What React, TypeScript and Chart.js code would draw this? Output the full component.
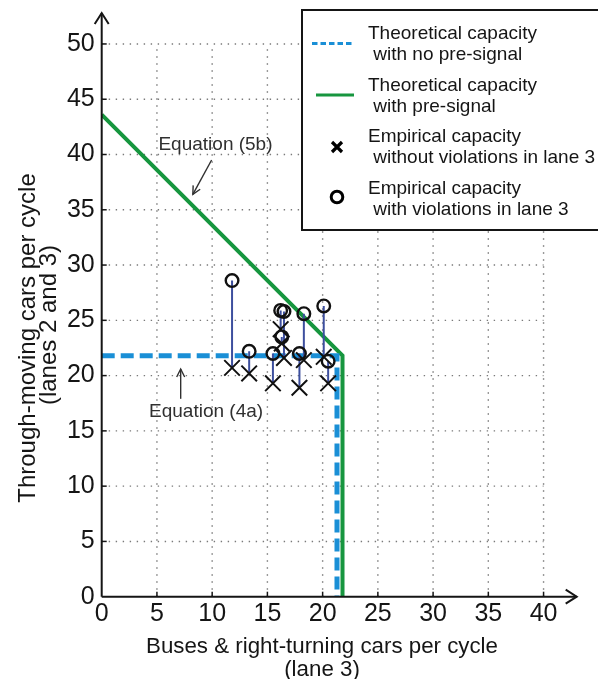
import React, { useEffect, useRef } from "react";
import { Chart, registerables } from "chart.js";

Chart.register(...registerables);

const FONT = '"Liberation Sans", Arial, Helvetica, sans-serif';

// Axis ticks
const xTicks = [0, 5, 10, 15, 20, 25, 30, 35, 40];
const yTicks = [0, 5, 10, 15, 20, 25, 30, 35, 40, 45, 50];

// Theoretical capacity, no pre-signal (Equation 4a)
const noPreX = [0, 21.3, 21.3];
const noPreY = [21.8, 21.8, 0];

// Theoretical capacity, with pre-signal (Equation 5b)
const preX = [0, 21.8, 21.8];
const preY = [43.6, 21.8, 0];

// Empirical observations (paired)
const obsX = [11.8, 13.35, 15.5, 16.2, 16.5, 16.3, 18.3, 17.9, 20.1, 20.5];
const withViolY = [28.6, 22.2, 22.0, 25.9, 25.8, 23.5, 25.6, 22.0, 26.3, 21.3];
const withoutViolY = [20.7, 20.2, 19.3, 24.2, 21.6, 22.9, 21.4, 18.9, 21.7, 19.3];

// Legend texts
const legendLines = [
  ["Theoretical capacity", " with no pre-signal"],
  ["Theoretical capacity", " with pre-signal"],
  ["Empirical capacity", " without violations in lane 3"],
  ["Empirical capacity", " with violations in lane 3"],
];

// Annotations (data coords): label centre, arrow from, arrow to
const annoText = ["Equation (5b)", "Equation (4a)"];
const annoLabelX = [10.3, 9.45];
const annoLabelY = [40.9, 16.7];
const annoFromX = [9.95, 7.15];
const annoFromY = [39.5, 17.9];
const annoToX = [8.25, 7.15];
const annoToY = [36.4, 20.6];

const xTitle = ["Buses & right-turning cars per cycle", "(lane 3)"];
const yTitle = ["Through-moving cars per cycle", "(lanes 2 and 3)"];

const BLUE = "#1a8fd6";
const GREEN = "#17963f";
const LINK = "#3d4f9e";
const INK = "#151515";

function arrowHead(ctx: CanvasRenderingContext2D, x1: number, y1: number, x2: number, y2: number, len: number, wid: number) {
  const a = Math.atan2(y2 - y1, x2 - x1);
  const ca = Math.cos(a), sa = Math.sin(a);
  ctx.beginPath();
  ctx.moveTo(x2 - len * ca - wid * sa, y2 - len * sa + wid * ca);
  ctx.lineTo(x2, y2);
  ctx.lineTo(x2 - len * ca + wid * sa, y2 - len * sa - wid * ca);
  ctx.stroke();
}

const decorPlugin = {
  id: "decor",
  beforeDatasetsDraw(chart: any) {
    const { ctx } = chart;
    const x = chart.scales.x;
    const y = chart.scales.y;
    ctx.save();
    ctx.strokeStyle = "#7a7a7a";
    ctx.lineWidth = 1.4;
    ctx.setLineDash([1.4, 5.6]);
    const y0 = y.getPixelForValue(0);
    const yTop = y.getPixelForValue(yTicks[yTicks.length - 1]);
    const x0 = x.getPixelForValue(0);
    const xEnd = x.getPixelForValue(xTicks[xTicks.length - 1]);
    for (const v of xTicks) {
      if (v === 0) continue;
      const px = x.getPixelForValue(v);
      ctx.beginPath();
      ctx.moveTo(px, y0);
      ctx.lineTo(px, yTop);
      ctx.stroke();
    }
    for (const v of yTicks) {
      if (v === 0) continue;
      const py = y.getPixelForValue(v);
      ctx.beginPath();
      ctx.moveTo(x0, py);
      ctx.lineTo(xEnd, py);
      ctx.stroke();
    }
    ctx.restore();
  },
  afterDatasetsDraw(chart: any) {
    const { ctx, chartArea } = chart;
    const x = chart.scales.x;
    const y = chart.scales.y;
    const x0 = x.getPixelForValue(0);
    const y0 = y.getPixelForValue(0);
    ctx.save();

    // axes with arrows
    ctx.strokeStyle = INK;
    ctx.lineWidth = 2;
    ctx.setLineDash([]);
    ctx.beginPath();
    ctx.moveTo(x0, y0);
    ctx.lineTo(chartArea.right, y0);
    ctx.moveTo(x0, y0);
    ctx.lineTo(x0, chartArea.top);
    ctx.stroke();
    arrowHead(ctx, x0, y0, chartArea.right, y0, 11, 7);
    arrowHead(ctx, x0, y0, x0, chartArea.top, 11, 7);

    // tick marks
    ctx.lineWidth = 1.5;
    for (const v of xTicks) {
      if (v === 0) continue;
      const px = x.getPixelForValue(v);
      ctx.beginPath();
      ctx.moveTo(px, y0);
      ctx.lineTo(px, y0 - 5);
      ctx.stroke();
    }
    for (const v of yTicks) {
      if (v === 0) continue;
      const py = y.getPixelForValue(v);
      ctx.beginPath();
      ctx.moveTo(x0, py);
      ctx.lineTo(x0 + 5, py);
      ctx.stroke();
    }

    // axis titles
    ctx.fillStyle = INK;
    ctx.textAlign = "center";
    ctx.textBaseline = "alphabetic";
    ctx.font = `22.3px ${FONT}`;
    ctx.fillText(xTitle[0], 322, 653);
    ctx.fillText(xTitle[1], 322, 675.5);

    ctx.save();
    ctx.font = `24px ${FONT}`;
    ctx.textBaseline = "middle";
    ctx.translate(28, 338);
    ctx.rotate(-Math.PI / 2);
    ctx.fillText(yTitle[0], 0, 0);
    ctx.restore();
    ctx.save();
    ctx.font = `24px ${FONT}`;
    ctx.textBaseline = "middle";
    ctx.translate(49, 325);
    ctx.rotate(-Math.PI / 2);
    ctx.fillText(yTitle[1], 0, 0);
    ctx.restore();

    // annotations
    ctx.fillStyle = "#303030";
    ctx.strokeStyle = "#303030";
    ctx.font = `19px ${FONT}`;
    ctx.textAlign = "center";
    ctx.textBaseline = "middle";
    ctx.lineWidth = 1.4;
    for (let i = 0; i < annoText.length; i++) {
      ctx.fillText(annoText[i], x.getPixelForValue(annoLabelX[i]), y.getPixelForValue(annoLabelY[i]));
      const fx = x.getPixelForValue(annoFromX[i]);
      const fy = y.getPixelForValue(annoFromY[i]);
      const tx = x.getPixelForValue(annoToX[i]);
      const ty = y.getPixelForValue(annoToY[i]);
      ctx.beginPath();
      ctx.moveTo(fx, fy);
      ctx.lineTo(tx, ty);
      ctx.stroke();
      arrowHead(ctx, fx, fy, tx, ty, 8, 4);
    }

    // legend
    const bx = 302, by = 10, bw = 320, bh = 220;
    ctx.fillStyle = "#ffffff";
    ctx.fillRect(bx, by, bw, bh);
    ctx.strokeStyle = INK;
    ctx.lineWidth = 2;
    ctx.strokeRect(bx, by, bw, bh);

    const rowY = [33.5, 85.5, 137, 188.5];
    const gap = 21;
    // sample 1: dashed blue
    ctx.strokeStyle = BLUE;
    ctx.lineWidth = 3;
    ctx.setLineDash([5.5, 3]);
    ctx.beginPath();
    ctx.moveTo(312, 43.5);
    ctx.lineTo(352, 43.5);
    ctx.stroke();
    ctx.setLineDash([]);
    // sample 2: green
    ctx.strokeStyle = GREEN;
    ctx.beginPath();
    ctx.moveTo(316, 95);
    ctx.lineTo(354, 95);
    ctx.stroke();
    // sample 3: cross
    ctx.strokeStyle = "#000";
    ctx.lineWidth = 3.2;
    const cx = 337, cy = 147, s = 5;
    ctx.beginPath();
    ctx.moveTo(cx - s, cy - s);
    ctx.lineTo(cx + s, cy + s);
    ctx.moveTo(cx - s, cy + s);
    ctx.lineTo(cx + s, cy - s);
    ctx.stroke();
    // sample 4: circle
    ctx.lineWidth = 3;
    ctx.beginPath();
    ctx.arc(337, 197, 5.8, 0, Math.PI * 2);
    ctx.stroke();

    ctx.fillStyle = INK;
    ctx.font = `19px ${FONT}`;
    ctx.textAlign = "left";
    ctx.textBaseline = "middle";
    for (let i = 0; i < legendLines.length; i++) {
      ctx.fillText(legendLines[i][0], 368, rowY[i]);
      ctx.fillText(legendLines[i][1], 368, rowY[i] + gap);
    }
    ctx.restore();
  },
};

export default function App() {
  const ref = useRef<HTMLCanvasElement | null>(null);
  useEffect(() => {
    if (!ref.current) return;
    const connectors = obsX.map((xv, i) => ({
      type: "scatter" as const,
      data: [
        { x: xv, y: withViolY[i] },
        { x: xv, y: withoutViolY[i] },
      ],
      showLine: true,
      borderColor: LINK,
      borderWidth: 2,
      pointRadius: 0,
      fill: false,
    }));
    const chart = new Chart(ref.current, {
      type: "scatter",
      data: {
        datasets: [
          {
            label: "Empirical capacity without violations in lane 3",
            data: obsX.map((xv, i) => ({ x: xv, y: withoutViolY[i] })),
            pointStyle: "crossRot",
            pointRadius: 11,
            borderColor: "#111",
            borderWidth: 2,
            backgroundColor: "transparent",
            showLine: false,
          },
          {
            label: "Empirical capacity with violations in lane 3",
            data: obsX.map((xv, i) => ({ x: xv, y: withViolY[i] })),
            pointStyle: "circle",
            pointRadius: 6.3,
            borderColor: "#111",
            borderWidth: 2.4,
            backgroundColor: "transparent",
            showLine: false,
          },
          ...connectors,
          {
            label: "Theoretical capacity with no pre-signal",
            data: noPreX.map((xv, i) => ({ x: xv, y: noPreY[i] })),
            showLine: true,
            borderColor: BLUE,
            borderWidth: 5,
            borderDash: [13, 6],
            pointRadius: 0,
            fill: false,
          },
          {
            label: "Theoretical capacity with pre-signal",
            data: preX.map((xv, i) => ({ x: xv, y: preY[i] })),
            showLine: true,
            borderColor: GREEN,
            borderWidth: 4,
            pointRadius: 0,
            fill: false,
          },
        ] as any,
      },
      options: {
        animation: false,
        responsive: false,
        devicePixelRatio: 1,
        layout: { padding: { top: 5, right: 21.3, left: 0, bottom: 0 } },
        plugins: { legend: { display: false }, tooltip: { enabled: false } },
        elements: { line: { tension: 0 } },
        scales: {
          x: {
            type: "linear",
            min: 0,
            max: 43,
            afterBuildTicks: (scale: any) => {
              scale.ticks = xTicks.map((v) => ({ value: v }));
            },
            afterFit: (scale: any) => {
              scale.height = 82.3;
            },
            grid: { display: false, drawTicks: false },
            border: { display: false },
            ticks: {
              padding: 2,
              color: INK,
              font: { family: FONT, size: 25 },
              maxRotation: 0,
              autoSkip: false,
            },
          },
          y: {
            type: "linear",
            min: 0,
            max: 52.8,
            afterBuildTicks: (scale: any) => {
              scale.ticks = yTicks.map((v) => ({ value: v }));
            },
            afterFit: (scale: any) => {
              scale.width = 101.7;
              scale.paddingTop = 0;
              scale.paddingBottom = 0;
            },
            grid: { display: false, drawTicks: false },
            border: { display: false },
            ticks: {
              padding: 7,
              color: INK,
              font: { family: FONT, size: 25, lineHeight: 0.6 },
              autoSkip: false,
            },
          },
        },
      } as any,
      plugins: [decorPlugin],
    });
    return () => chart.destroy();
  }, []);
  return (
    <div style={{ position: "fixed", left: 0, top: 0, width: 598, height: 679, background: "#fff" }}>
      <canvas ref={ref} width={598} height={679} style={{ width: 598, height: 679, display: "block" }} />
    </div>
  );
}
